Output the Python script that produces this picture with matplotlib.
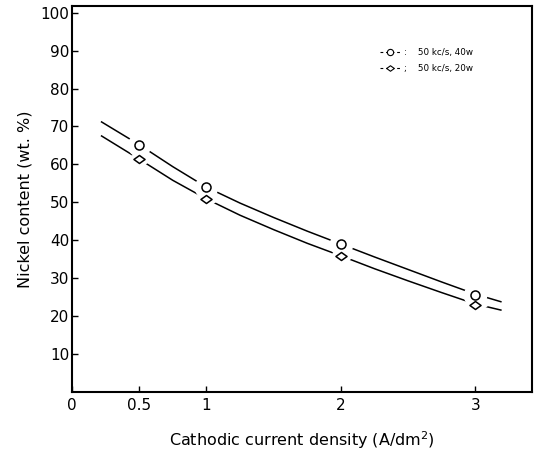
import matplotlib
matplotlib.use('Agg')
import matplotlib.pyplot as plt
from matplotlib.lines import Line2D
from matplotlib.path import Path

# measured points (A/dm2, wt.%)
x_pts = [0.5, 1, 2, 3]
ni_40w = [65.0, 54.0, 39.0, 25.6]
ni_20w = [61.4, 50.9, 35.9, 23.0]

# points
x_curve = [0.22, 0.5, 0.75, 1.0, 1.25, 1.5, 1.75, 2.0, 2.25, 2.5, 2.75, 3.0, 3.19]
curve_40w = [71.2, 65.2, 59.4, 54.0, 49.8, 46.0, 42.4, 39.0, 35.6, 32.3, 29.0, 25.8, 23.8]
curve_20w = [67.5, 61.4, 55.8, 50.9, 46.6, 42.8, 39.2, 35.9, 32.5, 29.3, 26.2, 23.2, 21.6]

x_ticks = [0, 0.5, 1, 2, 3]
x_ticklabels = ['0', '0.5', '1', '2', '3']
y_ticks = [10, 20, 30, 40, 50, 60, 70, 80, 90, 100]

labels = [':    50 kc/s, 40w', ';    50 kc/s, 20w']

diamond = Path([(-1, 0), (0, 0.72), (1, 0), (0, -0.72), (-1, 0)],
               [Path.MOVETO, Path.LINETO, Path.LINETO, Path.LINETO, Path.CLOSEPOLY])

fig = plt.figure(figsize=(5.35, 4.53), dpi=100)
ax = fig.add_axes([0.1346, 0.1347, 0.8594, 0.8523])

ax.plot(x_curve, curve_40w, color='black', lw=1.1, zorder=2)
ax.plot(x_curve, curve_20w, color='black', lw=1.1, zorder=2)

# white halos make the gaps in the curves around each point
ax.plot(x_pts, ni_40w, ls='none', marker='o', ms=17, mfc='white', mec='none', zorder=3)
ax.plot(x_pts, ni_20w, ls='none', marker=diamond, ms=19, mfc='white', mec='none', zorder=3)
ax.plot(x_pts, ni_40w, ls='none', marker='o', ms=6.5, mfc='white', mec='black', mew=1.1, zorder=5)
ax.plot(x_pts, ni_20w, ls='none', marker=diamond, ms=8, mfc='white', mec='black', mew=1.1, zorder=4)

ax.set_xlim(0, 3.42)
ax.set_ylim(0, 101.8)
ax.set_xticks(x_ticks)
ax.set_xticklabels(x_ticklabels)
ax.set_yticks(y_ticks)
ax.tick_params(direction='in', length=4, width=1, labelsize=11, pad=2)
ax.tick_params(axis='x', pad=4)
for s in ax.spines.values():
    s.set_linewidth(1.5)

ax.set_xlabel('Cathodic current density (A/dm$^2$)', fontsize=11.5, labelpad=12)
ax.set_ylabel('Nickel content (wt. %)', fontsize=11.5, labelpad=6)

handles = [
    Line2D([], [], color='black', lw=0.8, ls=(0, (2.5, 2.5)), marker='o', ms=4.5,
           mfc='white', mec='black', mew=0.8),
    Line2D([], [], color='black', lw=0.8, ls=(0, (2.5, 2.5)), marker=diamond, ms=5.5,
           mfc='white', mec='black', mew=0.8),
]
ax.legend(handles, labels, loc='upper left', bbox_to_anchor=(0.662, 0.9),
          frameon=False, fontsize=6.3, handlelength=2.3, handletextpad=0.4,
          labelspacing=0.8, borderaxespad=0)

fig.savefig('out.png', dpi=100)
